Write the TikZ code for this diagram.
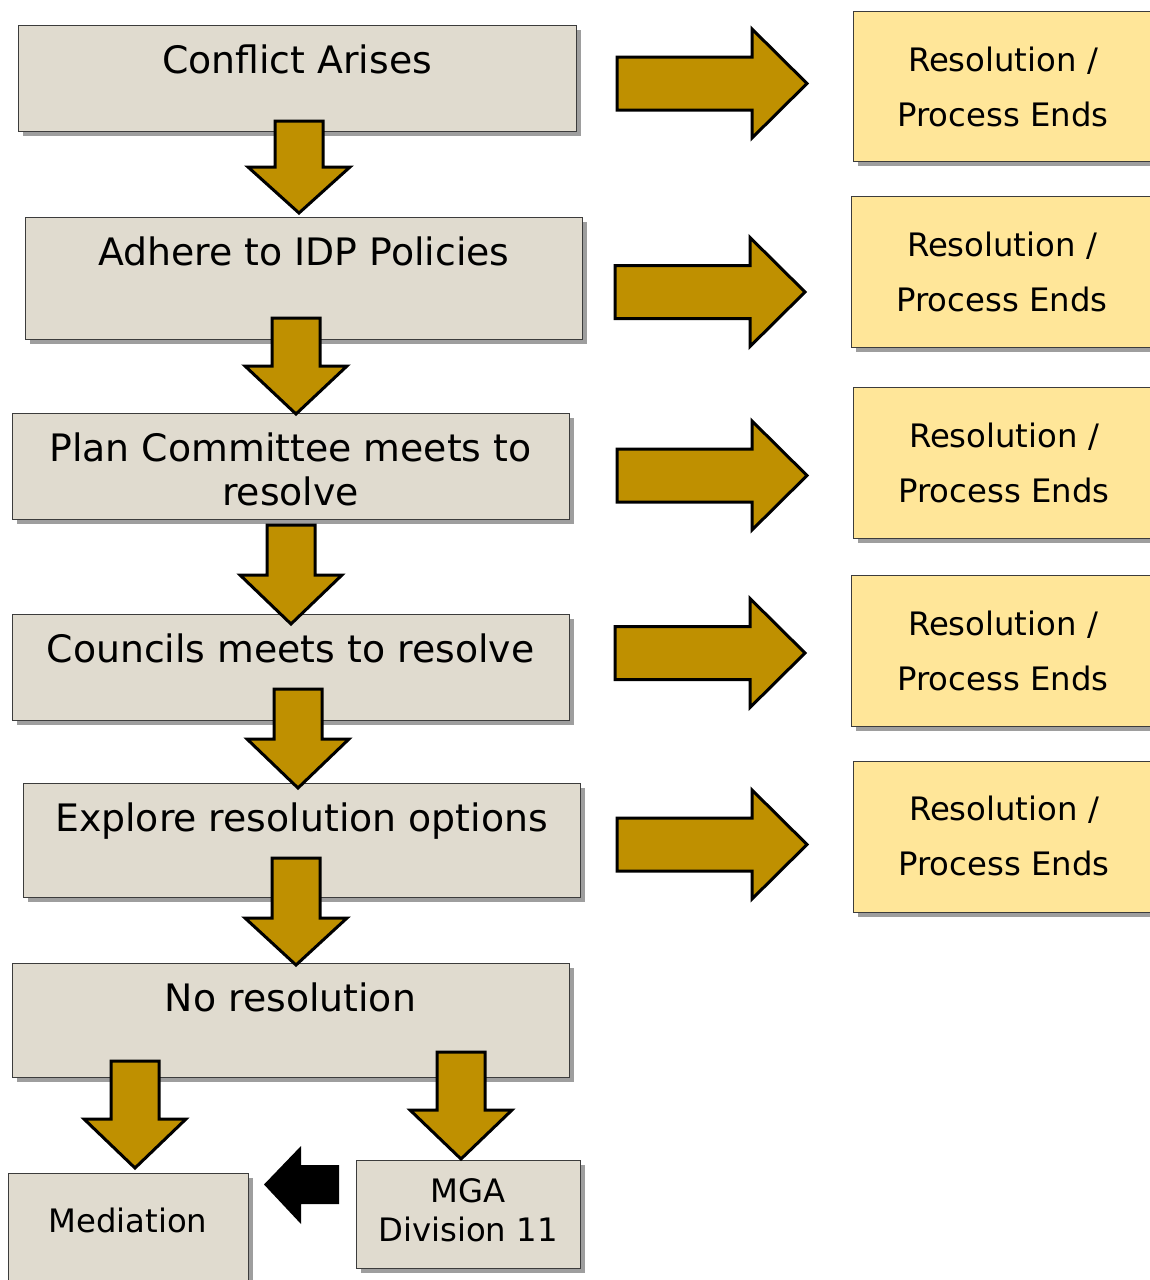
\documentclass[tikz,border=0pt]{standalone}
\usepackage{fontspec}
\setmainfont{DejaVu Sans}
\usetikzlibrary{shadows}
\definecolor{boxgray}{RGB}{224,219,207}
\definecolor{boxline}{RGB}{60,60,60}
\definecolor{shadowgray}{RGB}{158,158,158}
\definecolor{goldfill}{RGB}{191,144,0}
\definecolor{paleyellow}{RGB}{255,230,153}
\tikzset{
  basebox/.style={draw=boxline, line width=1.3pt, anchor=north west, inner sep=0pt,
    drop shadow={shadow xshift=4pt, shadow yshift=-4pt, fill=shadowgray, opacity=1}},
  graybox/.style={basebox, fill=boxgray},
  yellowbox/.style={basebox, fill=paleyellow, minimum width=300pt},
  bigtext/.style={font=\fontsize{37.8}{44}\selectfont, align=center, anchor=base, inner sep=0pt},
  smalltext/.style={font=\fontsize{32.3}{39}\selectfont, align=center, anchor=base, inner sep=0pt},
  restext/.style={smalltext, font=\fontsize{32.3}{55}\selectfont},
  goldarrow/.style={fill=goldfill, draw=black, line width=3pt, line join=miter},
  blackarrow/.style={fill=black, draw=none},
}
\newcommand\golddown[4]{%
  \draw[goldarrow] ({#1-24},#2) -- ({#1+24},#2) -- ({#1+24},#3) -- ({#1+51},#3) -- (#1,#4) -- ({#1-51},#3) -- ({#1-24},#3) -- cycle;}
\newcommand\goldright[4]{%
  \draw[goldarrow] (#1,{#2-26.5}) -- (#3,{#2-26.5}) -- (#3,{#2-54.5}) -- (#4,#2) -- (#3,{#2+54.5}) -- (#3,{#2+26.5}) -- (#1,{#2+26.5}) -- cycle;}
\begin{document}
\begin{tikzpicture}[x=1pt,y=-1pt]
\useasboundingbox (0,0) rectangle (1150,1280);
% left column boxes
\node[graybox, minimum width=558pt, minimum height=106pt] (conflict) at (18,25) {};
\node[graybox, minimum width=557pt, minimum height=122pt] (adhere) at (25,217) {};
\node[graybox, minimum width=557pt, minimum height=106pt] (plan) at (12,413) {};
\node[graybox, minimum width=557pt, minimum height=106pt] (councils) at (12,614) {};
\node[graybox, minimum width=557pt, minimum height=114pt] (explore) at (23,783) {};
\node[graybox, minimum width=557pt, minimum height=114pt] (nores) at (12,963) {};
\node[graybox, minimum width=240pt, minimum height=130pt] (mediation) at (8,1173) {};
\node[graybox, minimum width=224pt, minimum height=108pt] (mga) at (356,1160) {};
% right column boxes
\node[yellowbox, minimum height=150pt] (res1) at (853,11) {};
\node[yellowbox, minimum height=151pt] (res2) at (851,196) {};
\node[yellowbox, minimum height=151pt] (res3) at (853,387) {};
\node[yellowbox, minimum height=151pt] (res4) at (851,575) {};
\node[yellowbox, minimum height=151pt] (res5) at (853,761) {};
% texts (base anchor = baseline of the last line)
\node[bigtext] (tconflict) at (297,73.5) {Conflict Arises};
\node[bigtext] (tadhere) at (304,265.5) {Adhere to IDP Policies};
\node[bigtext] (tplan) at (290.5,505.5) {Plan Committee meets to\\resolve};
\node[bigtext] (tcouncils) at (290.5,662.5) {Councils meets to resolve};
\node[bigtext] (texplore) at (301.5,831.5) {Explore resolution options};
\node[bigtext] (tnores) at (290.5,1011.5) {No resolution};
\node[smalltext] (tmediation) at (128,1232) {Mediation};
\node[smalltext] (tmga) at (468,1241) {MGA\\Division 11};
\node[restext] (tres1) at (1003,126) {Resolution /\\Process Ends};
\node[restext] (tres2) at (1002,311) {Resolution /\\Process Ends};
\node[restext] (tres3) at (1004,502) {Resolution /\\Process Ends};
\node[restext] (tres4) at (1003,690) {Resolution /\\Process Ends};
\node[restext] (tres5) at (1004,875) {Resolution /\\Process Ends};
% down arrows
\golddown{299}{121}{167}{213}
\golddown{296}{318}{366}{414}
\golddown{291}{525}{575}{624}
\golddown{298}{689}{739}{788}
\golddown{296}{858}{918}{965}
\golddown{135}{1061}{1119}{1168}
\golddown{461}{1052}{1110}{1159}
% right arrows
\goldright{617}{83.5}{752}{807}
\goldright{615}{292}{750}{805}
\goldright{617}{475.5}{752}{807}
\goldright{615}{653}{750}{805}
\goldright{617}{844.5}{752}{807}
% black arrow MGA -> Mediation
\fill[blackarrow] (339,1165) -- (301,1165) -- (301,1146) -- (264,1184.5) -- (301,1224) -- (301,1204) -- (339,1204) -- cycle;
\end{tikzpicture}
\end{document}
